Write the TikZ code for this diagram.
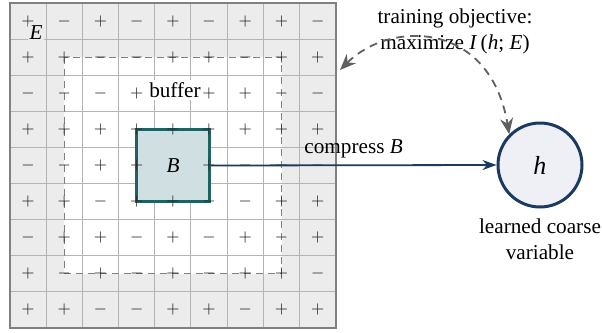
\documentclass[tikz,border=0pt]{standalone}
\usepackage{fontspec}
\setmainfont{Liberation Serif}
\usetikzlibrary{arrows.meta}
\definecolor{cellgray}{HTML}{ECECEC}
\definecolor{gridgray}{HTML}{B4B4B4}
\definecolor{boxfill}{HTML}{D0DFE1}
\definecolor{boxline}{HTML}{1F6262}
\definecolor{navy}{HTML}{1B3A5F}
\definecolor{hfill}{HTML}{EEF0F5}
\newcommand{\sgn}[1]{\if#1-$-$\else\if#1+$+$\fi\fi}
\begin{document}
\begin{tikzpicture}[x=0.5pt, y=-0.5pt, every node/.style={font=\fontsize{10.6}{13}\selectfont},
  sign/.style={font=\fontsize{8}{9}\selectfont, text=black!85, inner sep=0pt},
  gridline/.style={gridgray, line width=0.5pt}]
  \useasboundingbox (0,0) rectangle (602,333);
  % lattice: grey environment E, white buffer inside the dashed line
  \fill[cellgray] (10,3) rectangle (336,328);
  \fill[white] (64.3,57.2) rectangle (281.6,273.8);
  \foreach \i in {1,...,8} {\draw[gridline] (10+\i*36.2,3) -- (10+\i*36.2,328); \draw[gridline] (10,3+\i*36.1) -- (336,3+\i*36.1);}
  \draw[gray, line width=0.8pt] (10,3) rectangle (336,328);
  \draw[gray, dash pattern=on 3.5pt off 2.5pt, line width=0.6pt] (64.3,57.2) rectangle (281.6,273.8);
  \node[draw=boxline, fill=boxfill, line width=1.5pt, minimum width=36.2pt, minimum height=36.1pt, inner sep=0pt] (B) at (173,165.5) {\textit{B}};
  % spins, row by row (n = no sign shown)
  \foreach \row [count=\r] in {{+,-,+,-,+,-,+,+,-},{+,+,-,-,+,+,-,+,+},{-,-,-,+,n,+,+,-,-},
      {+,+,+,+,+,+,+,+,+},{-,-,+,+,n,+,-,-,-},{+,+,-,+,+,-,-,+,+},
      {-,+,+,-,+,-,+,-,+},{+,-,+,-,+,-,+,+,-},{+,+,-,-,+,+,-,+,+}}
    \foreach \s [count=\c] in \row \node[sign] (s\r\c) at (10+\c*36.2-18.1,3+\r*36.1-18.05) {\sgn{\s}};
  \node[fill=white, inner sep=1pt] (buf) at (175,90) {buffer};
  \node[fill=cellgray, inner sep=1pt] (E) at (36,33) {\textit{E}};
  % coarse variable and the two connectors
  \node[circle, draw=navy, fill=hfill, line width=1.5pt, minimum size=42pt, inner sep=0pt, font=\fontsize{13}{14}\selectfont] (h) at (540,165) {\textit{h}};
  \node[align=center, anchor=north] (hlab) at (540,212) {learned coarse\\variable};
  \draw[navy, line width=0.9pt, -{Stealth[length=7pt, width=5pt]}] (B.east) -- (h.west) node[midway, above, black] (cmp) {compress \textit{B}};
  \node[align=center] (obj) at (455,31) {training objective:\\maximize \textit{I}\,(\textit{h}; \textit{E})};
  \coordinate (gridtip) at (340,70);
  \draw[gray!75!black, dash pattern=on 4pt off 3pt, line width=0.9pt, {Stealth[length=8pt, width=6.5pt]}-{Stealth[length=8pt, width=6.5pt]}] (gridtip) .. controls (390,20) and (490,20) .. (h.north west);
\end{tikzpicture}
\end{document}
